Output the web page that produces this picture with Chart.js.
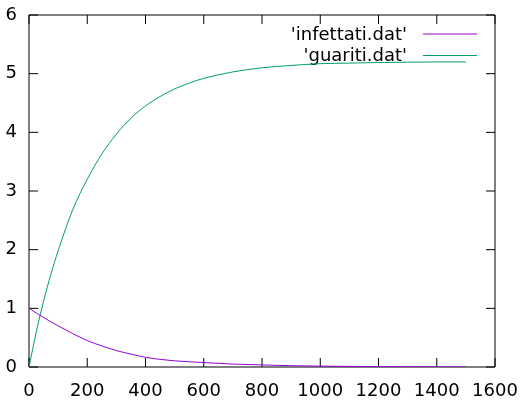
<!DOCTYPE html>
<html>
<head>
<meta charset="utf-8">
<script src="https://cdn.jsdelivr.net/npm/chart.js@4"></script>
<style>
  body { margin: 0; background: #fff; }
  #wrap { width: 528px; height: 402px; }
</style>
</head>
<body>
<div id="wrap"><canvas id="mycanvas" width="528" height="402"></canvas></div>
<script>
// values
var tempo = [0, 25, 50, 75, 100, 150, 200, 250, 300, 350, 400, 450, 500, 550, 600, 700, 800, 900, 1000, 1100, 1200, 1300, 1400, 1500];
var infettati = [1.0, 0.92, 0.845, 0.77, 0.70, 0.57, 0.45, 0.36, 0.28, 0.22, 0.165, 0.13, 0.105, 0.09, 0.075, 0.05, 0.035, 0.022, 0.015, 0.01, 0.007, 0.005, 0.003, 0.002];
var guariti = [0, 0.6, 1.12, 1.58, 1.98, 2.68, 3.2, 3.63, 3.97, 4.24, 4.45, 4.61, 4.74, 4.84, 4.92, 5.03, 5.10, 5.14, 5.17, 5.18, 5.19, 5.195, 5.2, 5.2];
var xTicks = [0, 200, 400, 600, 800, 1000, 1200, 1400, 1600];
var yTicks = [0, 1, 2, 3, 4, 5, 6];
var labels = ["'infettati.dat'", "'guariti.dat'"];
var colori = ["#9400d3", "#009e73"];

function punti(ys) {
  var out = [];
  for (var i in tempo) out.push({x: tempo[i], y: ys[i]});
  return out;
}

// gnuplot style frame with inward ticks on all four sides
var frame = {
  id: 'frame',
  beforeDatasetsDraw: function(chart) {
    var ctx = chart.ctx, a = chart.chartArea;
    var xs = chart.scales.x, ys = chart.scales.y;
    ctx.save();
    ctx.strokeStyle = '#000';
    ctx.lineWidth = 1;
    ctx.beginPath();
    ctx.rect(a.left, a.top, a.right - a.left, a.bottom - a.top);
    xTicks.forEach(function(v) {
      var p = xs.getPixelForValue(v);
      ctx.moveTo(p, a.bottom); ctx.lineTo(p, a.bottom - 9);
      ctx.moveTo(p, a.top); ctx.lineTo(p, a.top + 9);
    });
    yTicks.forEach(function(v) {
      var p = ys.getPixelForValue(v);
      ctx.moveTo(a.left, p); ctx.lineTo(a.left + 9, p);
      ctx.moveTo(a.right, p); ctx.lineTo(a.right - 9, p);
    });
    ctx.stroke();

    // key, text right aligned then a line sample
    ctx.font = '18px "DejaVu Sans"';
    ctx.textAlign = 'right';
    ctx.textBaseline = 'middle';
    ctx.fillStyle = '#000';
    for (var i = 0; i < labels.length; i++) {
      var y = a.top + 19 + i * 21.5;
      ctx.fillText(labels[i], a.right - 88, y + 1);
      ctx.strokeStyle = colori[i];
      ctx.beginPath();
      ctx.moveTo(a.right - 72, y);
      ctx.lineTo(a.right - 18, y);
      ctx.stroke();
    }
    ctx.restore();
  }
};

var ctx = document.getElementById('mycanvas');
var grafico = new Chart(ctx, {
  type: 'line',
  data: {
    datasets: [
      {
        label: labels[0],
        data: punti(infettati),
        borderColor: colori[0],
        borderWidth: 1,
        pointRadius: 0,
        fill: false,
        cubicInterpolationMode: 'monotone'
      },
      {
        label: labels[1],
        data: punti(guariti),
        borderColor: colori[1],
        borderWidth: 1,
        pointRadius: 0,
        fill: false,
        cubicInterpolationMode: 'monotone'
      }
    ]
  },
  options: {
    responsive: false,
    animation: false,
    layout: { padding: { left: 0, right: 33, top: 15, bottom: 0 } },
    plugins: { legend: { display: false }, tooltip: { enabled: false } },
    scales: {
      x: {
        type: 'linear',
        min: 0, max: 1600,
        grid: { display: false, drawTicks: false },
        border: { display: false },
        afterBuildTicks: function(s) { s.ticks = xTicks.map(function(v) { return {value: v}; }); },
        afterFit: function(s) { s.height = 35; s.paddingLeft = 0; s.paddingRight = 0; },
        ticks: { color: '#000', font: { family: 'DejaVu Sans', size: 18 }, padding: 14, maxRotation: 0,
                 callback: function(v) { return String(v); } }
      },
      y: {
        type: 'linear',
        min: 0, max: 6,
        grid: { display: false, drawTicks: false },
        border: { display: false },
        afterBuildTicks: function(s) { s.ticks = yTicks.map(function(v) { return {value: v}; }); },
        afterFit: function(s) { s.width = 29; s.paddingTop = 0; s.paddingBottom = 0; },
        ticks: { color: '#000', font: { family: 'DejaVu Sans', size: 18 }, padding: 12,
                 callback: function(v) { return String(v); } }
      }
    }
  },
  plugins: [frame]
});
</script>
</body>
</html>
